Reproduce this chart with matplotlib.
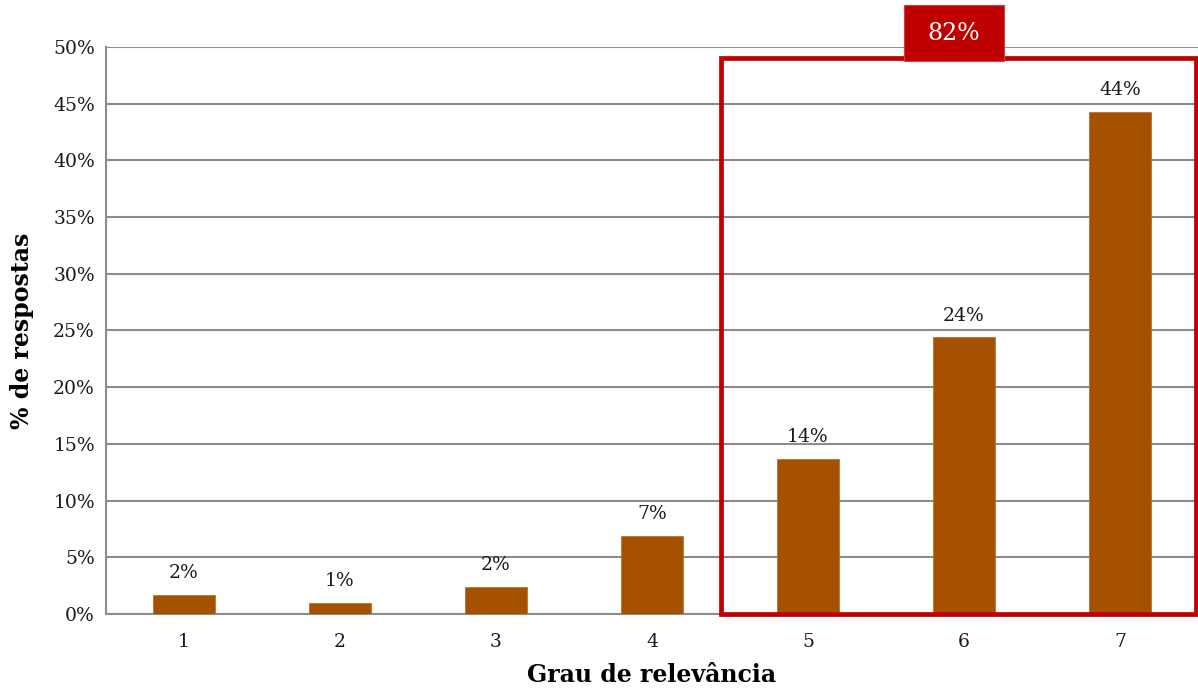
import matplotlib
matplotlib.use("Agg")
import matplotlib.pyplot as plt
from matplotlib.patches import Rectangle
from matplotlib.ticker import MultipleLocator, FuncFormatter

categories = ["1", "2", "3", "4", "5", "6", "7"]
shares = [1.7, 1.0, 2.4, 6.9, 13.7, 24.4, 44.3]
highlight = ["5", "6", "7"]

bar_color = "#A65100"
red = "#C00000"
grid_color = "#8C8C8C"

plt.rcParams["font.family"] = ["DejaVu Serif"]

fig = plt.figure(figsize=(11.98, 6.88), dpi=100)
ax = fig.add_axes([0.0885, 0.1076, 0.9115, 0.8241])

x = list(range(len(categories)))
ax.bar(x, shares, width=0.4, color=bar_color, edgecolor="#B8733A", linewidth=0.6, zorder=3)

for xi, v in zip(x, shares):
    ax.annotate(f"{v:.0f}%", (xi, v), xytext=(0, 9), textcoords="offset points",
                ha="center", va="bottom", fontsize=13.5, color="#1A1A1A")

ax.set_xlim(-0.5, len(categories) - 0.5)
ax.set_ylim(0, 50)
ax.yaxis.set_major_locator(MultipleLocator(5))
ax.yaxis.set_major_formatter(FuncFormatter(lambda v, p: f"{v:.0f}%"))
ax.set_xticks(x)
ax.set_xticklabels(categories)
ax.tick_params(axis="both", length=0, labelsize=13.5, colors="#1A1A1A")
ax.tick_params(axis="x", pad=14)
ax.tick_params(axis="y", pad=8)

ax.grid(axis="y", color=grid_color, linewidth=1.5, zorder=0)
for side in ["top", "right"]:
    ax.spines[side].set_visible(False)
for side in ["left", "bottom"]:
    ax.spines[side].set_color(grid_color)
    ax.spines[side].set_linewidth(1.5)

ax.set_xlabel("Grau de relevância", fontsize=17, fontweight="bold", labelpad=8)
ax.set_ylabel("% de respostas", fontsize=17, fontweight="bold", labelpad=14)

# Highlight of the top three relevance levels
idx = [categories.index(c) for c in highlight]
total = sum(shares[i] for i in idx)
left = idx[0] - 0.56
right = idx[-1] + 0.49
box = Rectangle((left, 0), right - left, 49.0, fill=False, edgecolor=red,
                linewidth=3.4, zorder=4, clip_on=False)
ax.add_patch(box)

# Tag with the combined share, sitting on the top edge of the highlight
cx = (idx[0] + idx[-1]) / 2 - 0.065
tag_w, tag_y0, tag_y1 = 0.64, 48.75, 53.7
tag = Rectangle((cx - tag_w / 2, tag_y0), tag_w, tag_y1 - tag_y0, facecolor=red,
                edgecolor="#D04040", linewidth=0.8, zorder=5, clip_on=False)
ax.add_patch(tag)
ax.text(cx, (tag_y0 + tag_y1) / 2, f"{total:.0f}%", ha="center", va="center",
        fontsize=17, color="white", zorder=6, clip_on=False)

fig.savefig("out.png", dpi=100)
